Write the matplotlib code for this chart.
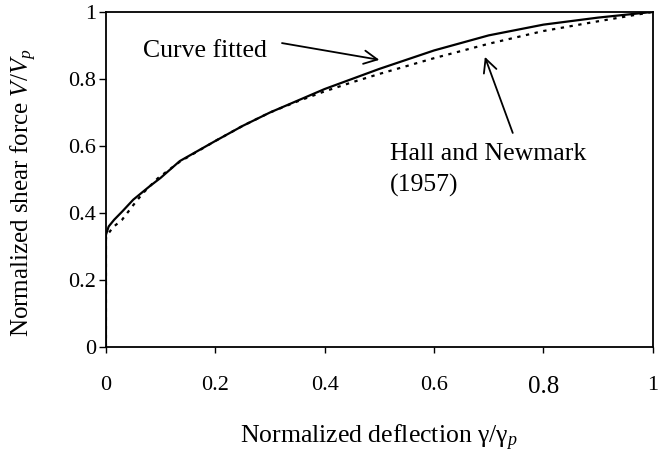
import matplotlib
matplotlib.use("Agg")
import matplotlib.pyplot as plt

plt.rcParams['font.family'] = ['Liberation Serif', 'DejaVu Serif']
plt.rcParams['mathtext.fontset'] = 'custom'
plt.rcParams['mathtext.rm'] = 'Liberation Serif'
plt.rcParams['mathtext.it'] = 'Liberation Serif:italic'

# Curve fitted (solid)
fit_x = [0.0, 0.0, 0.005, 0.015, 0.03, 0.05, 0.08, 0.1, 0.135, 0.2, 0.25, 0.3, 0.35, 0.4, 0.45, 0.5, 0.6, 0.7, 0.8, 0.9, 1.0]
fit_y = [0.0, 0.335, 0.36, 0.38, 0.405, 0.44, 0.48, 0.505, 0.555, 0.615, 0.66, 0.70, 0.735, 0.77, 0.80, 0.83, 0.885, 0.93, 0.962, 0.983, 1.0]

# Hall and Newmark (1957) (dotted)
hn_x = [0.0, 0.0, 0.005, 0.013, 0.029, 0.053, 0.068, 0.095, 0.135, 0.2, 0.25, 0.3, 0.35, 0.4, 0.45, 0.5, 0.6, 0.7, 0.8, 0.9, 1.0]
hn_y = [0.0, 0.325, 0.34, 0.358, 0.379, 0.43, 0.46, 0.504, 0.553, 0.615, 0.66, 0.70, 0.733, 0.763, 0.79, 0.815, 0.862, 0.905, 0.943, 0.972, 1.0]

x_ticks = [0, 0.2, 0.4, 0.6, 0.8, 1]
x_tick_labels = ['0', '0.2', '0.4', '0.6', '0.8', '1']
y_ticks = [0, 0.2, 0.4, 0.6, 0.8, 1]
y_tick_labels = ['0', '0.2', '0.4', '0.6', '0.8', '1']

fig = plt.figure(figsize=(6.58, 4.58), dpi=100)
ax = fig.add_axes([0.161, 0.242, 0.831, 0.732])

ax.plot(fit_x, fit_y, color='black', lw=1.6, solid_joinstyle='round')
ax.plot(hn_x, hn_y, color='black', lw=1.6, linestyle=(0, (1.5, 2.5)))

ax.set_xlim(0, 1)
ax.set_ylim(0, 1)
ax.set_xticks(x_ticks)
ax.set_xticklabels(x_tick_labels, fontsize=16)
ax.set_yticks(y_ticks)
ax.set_yticklabels(y_tick_labels, fontsize=16)
for lab in ax.get_xticklabels():
    if lab.get_text() == '0.8':
        lab.set_fontsize(18)
ax.tick_params(axis='x', direction='out', length=4, width=1, pad=17, colors='black')
ax.tick_params(axis='y', direction='out', length=5, width=1, pad=2, colors='black')
for s in ax.spines.values():
    s.set_linewidth(1.3)
    s.set_color('black')

ax.set_xlabel(r'Normalized deflection γ/γ$_{\mathit{p}}$', fontsize=18.5)
ax.xaxis.set_label_coords(0.5, -0.225)
ax.set_ylabel(r'Normalized shear force $\mathit{V}$/$\mathit{V_p}$', fontsize=18)
ax.yaxis.set_label_coords(-0.123, 0.46)

ax.text(0.068, 0.866, 'Curve fitted', fontsize=18.5, ha='left', va='baseline')
ax.annotate('', xy=(0.50, 0.857), xytext=(0.322, 0.907),
            arrowprops=dict(arrowstyle='->', color='black', lw=1.3,
                            mutation_scale=24, shrinkA=0, shrinkB=0))
ax.annotate('', xy=(0.693, 0.866), xytext=(0.744, 0.639),
            arrowprops=dict(arrowstyle='->', color='black', lw=1.3,
                            mutation_scale=24, shrinkA=0, shrinkB=0))
ax.text(0.519, 0.558, 'Hall and Newmark', fontsize=18.5, ha='left', va='baseline')
ax.text(0.519, 0.463, '(1957)', fontsize=18.5, ha='left', va='baseline')

fig.savefig('out.png', dpi=100)
